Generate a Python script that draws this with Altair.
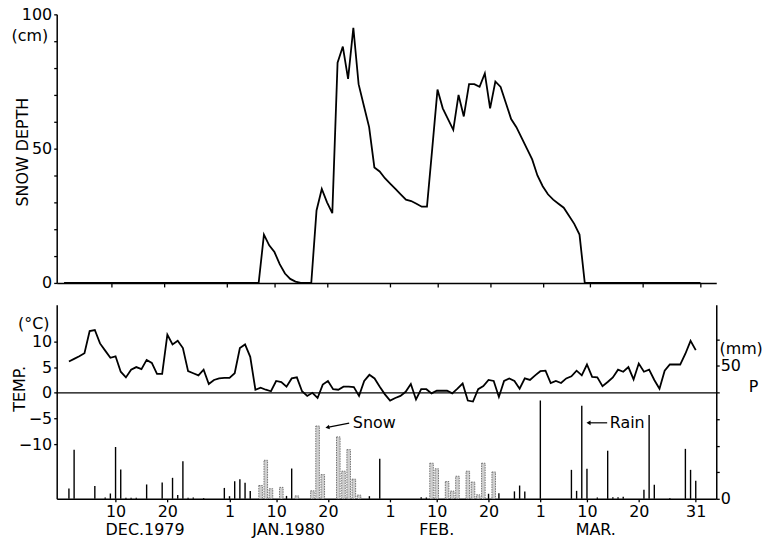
import altair as alt
import pandas as pd

FONT = "DejaVu Sans"

# Day index: 1 = 1 Dec 1979 ... 122 = 31 Mar 1980
snow_depth_cm = (
    [0] * 37
    + [0, 18, 14, 11.5, 7, 3.5, 1.5, 0.5, 0, 0, 0,            # 38-48
       27, 35, 30, 26, 82, 88, 76, 95, 74, 66, 58, 43,        # 49-60
       41.5, 39, 37, 35, 33, 31, 30.5, 29.5, 28.4, 28.4,      # 61-70
       50, 72, 65, 61, 57, 70, 62, 74, 74, 73,                # 71-80
       78, 65, 75, 73, 67, 61, 58, 54, 50, 46,                # 81-90
       40, 36, 33, 31, 29.5, 28, 25, 22, 18, 0]               # 91-100
    + [0] * 22
)

temperature_c = [
    6.1, 6.6, 7.1, 7.7, 12.0, 12.2, 9.6, 8.2, 6.8, 7.1,
    4.1, 3.0, 4.5, 5.0, 4.6, 6.4, 5.8, 3.7, 3.7, 11.3,
    9.4, 10.1, 8.7, 4.2, 3.8, 3.4, 4.5, 1.7, 2.5, 2.8,
    2.9, 2.9, 3.8, 8.7, 9.4, 7.0, 0.6, 1.0, 0.6, 0.3,
    2.3, 2.1, 1.2, 2.8, 3.0, 0.3, -0.6, 0.0, -1.0, 1.6,
    2.3, 0.7, 0.6, 1.2, 1.2, 1.1, -0.6, 2.3, 3.5, 2.8,
    1.2, -0.3, -1.5, -1.0, -0.6, 0.2, 1.7, -1.3, 0.7, 0.7,
    -0.1, 0.4, 0.4, 0.4, -0.1, 0.8, 1.8, -1.5, -1.7, 0.7,
    1.3, 2.5, 2.3, -0.8, 2.3, 2.8, 2.3, 0.8, 2.8, 2.5,
    3.4, 4.2, 4.3, 1.9, 2.3, 1.9, 2.8, 3.2, 4.3, 3.4,
    5.5, 3.1, 3.0, 1.3, 2.1, 3.0, 4.5, 4.1, 5.0, 2.6,
    5.7, 4.1, 4.5, 2.5, 0.8, 4.3, 5.5, 5.5, 5.5, 7.6,
    10.1, 8.3,
]

rain_days = [1, 2, 6, 8, 9, 10, 11, 12, 13, 14, 16, 19, 21, 22, 23, 24, 25, 27,
             31, 32, 33, 34, 35, 36, 43, 44, 59, 61, 69, 70, 82, 84, 87, 88, 89,
             92, 98, 99, 100, 101, 103, 105, 106, 107, 108, 112, 113, 114, 117,
             120, 121, 122]
rain_mm = [3.9, 18.5, 4.8, 0.5, 2, 19.5, 11, 0.4, 0.4, 0.4, 5.4, 6.1, 7.9, 1.4, 14.1, 0.4, 0.5, 0.3,
           4.1, 1.0, 6.6, 7.4, 6.0, 2.9, 1.1, 11.4, 1.0, 15.1, 0.6, 0.5, 1.9, 2.1, 2.8, 5.0, 2.8,
           37, 10.9, 3.0, 35, 11.3, 0.5, 18.1, 0.6, 0.6, 0.8, 3.4, 31.5, 5.3, 0.3,
           18.8, 10.9, 6.8]

snowfall_days = [38, 39, 40, 42, 45, 48, 49, 50, 53, 54, 55, 56, 57,
                 71, 72, 74, 75, 76, 78, 79, 80, 81, 83]
snowfall_mm = [5, 14.5, 3.8, 4.3, 1.1, 3, 27.4, 9.1, 23.3, 10.4, 18.5, 7.4, 1.4,
               13.4, 11.3, 6.5, 2.9, 8.5, 10.4, 6.3, 1.5, 13.4, 10.1]

tick_days = [10, 20, 32, 41, 51, 63, 72, 82, 92, 101, 111, 122]
tick_labels = ["10", "20", "1", "10", "20", "1", "10", "20", "1", "10", "20", "31"]

month_names = ["DEC.1979", "JAN.1980", "FEB.", "MAR."]
month_days = [15.7, 43.4, 72.0, 102.7]

# annotation anchors (day, mm)
note_texts = ["Snow", "Rain"]
note_days = [55.8, 105.4]
note_mm = [28.6, 28.6]
arrow_from_days = [55.1, 104.9]
arrow_from_mm = [28.5, 28.6]
arrow_to_days = [50.9, 101.3]
arrow_to_mm = [26.9, 28.6]
arrow_angles = [349, 0]

days = list(range(1, 123))
daily = pd.DataFrame({"day": days, "depth": snow_depth_cm, "temp": temperature_c})
rain = pd.DataFrame({"day": rain_days, "mm": rain_mm})
snowfall = pd.DataFrame({"day": snowfall_days, "mm": snowfall_mm})
notes = pd.DataFrame({"day": note_days, "mm": note_mm, "t": note_texts})
arrows = pd.DataFrame({"day": arrow_from_days, "mm": arrow_from_mm,
                       "day2": arrow_to_days, "mm2": arrow_to_mm, "ang": arrow_angles})
heads = pd.DataFrame({"day": arrow_to_days, "mm": arrow_to_mm, "ang": arrow_angles})
months = pd.DataFrame({"day": month_days, "m": month_names})

W = 663
x_scale = alt.Scale(domain=[-0.4, 125], nice=False, zero=False)
label_expr = ("[" + ",".join(f"'{l}'" for l in tick_labels) + "][indexof(["
              + ",".join(str(d) for d in tick_days) + "], datum.value)]")

x_top = alt.X("day:Q", scale=x_scale,
              axis=alt.Axis(values=tick_days, labels=False, title=None, tickSize=4))
x_bot = alt.X("day:Q", scale=x_scale,
              axis=alt.Axis(values=tick_days, labelExpr=label_expr, title=None,
                            tickSize=3, labelPadding=2, labelOverlap=False))

# ---------- top panel: snow depth ----------
depth_y = alt.Y("depth:Q", scale=alt.Scale(domain=[0, 100], nice=False),
                axis=alt.Axis(values=list(range(0, 101, 10)),
                              labelExpr="datum.value % 50 == 0 ? datum.label : ''",
                              title="SNOW DEPTH", titleAngle=270, titleX=-34, titleY=138,
                              titleAlign="center", titleBaseline="middle",
                              tickSize=3, labelPadding=2, labelOverlap=False))
depth_line = alt.Chart(daily).mark_line(color="black", strokeWidth=1.8).encode(x=x_top, y=depth_y)
cm_text = alt.Chart(pd.DataFrame({"t": ["(cm)"]})).mark_text(
    font=FONT, fontSize=16, align="center", baseline="middle", color="black"
).encode(text="t:N", x=alt.value(-27), y=alt.value(22))
top = alt.layer(depth_line, cm_text).properties(width=W, height=270)

# ---------- bottom panel: temperature + precipitation ----------
temp_scale = alt.Scale(domain=[-20.6, 17.1], nice=False, zero=False)
temp_axis = alt.Axis(orient="left", values=[-10, -5, 0, 5, 10], title="TEMP.",
                     titleAngle=270, titleX=-37, titleY=84, titleAlign="center",
                     titleBaseline="middle", tickSize=3, labelPadding=2, labelOverlap=False)
temp_line = alt.Chart(daily).mark_line(color="black", strokeWidth=1.8).encode(
    x=x_bot, y=alt.Y("temp:Q", scale=temp_scale, axis=temp_axis))
zero_rule = alt.Chart(pd.DataFrame({"temp": [0]})).mark_rule(color="black", strokeWidth=1.3).encode(
    y=alt.Y("temp:Q", scale=temp_scale, axis=temp_axis))
temp_group = alt.layer(temp_line, zero_rule)

p_scale = alt.Scale(domain=[0, 73], nice=False, zero=True)
p_axis = alt.Axis(orient="right", values=list(range(0, 61, 10)),
                  labelExpr="datum.value == 0 || datum.value == 50 ? datum.label : ''",
                  title="P", titleAngle=0, titleX=37, titleY=82, titleAlign="center",
                  titleBaseline="middle", tickSize=3, labelPadding=1, labelOverlap=False)
p_y = alt.Y("mm:Q", scale=p_scale, axis=p_axis)

rain_bars = alt.Chart(rain).mark_bar(color="black", size=1.4).encode(x=x_bot, y=p_y)
snow_bars = alt.Chart(snowfall).mark_bar(
    size=3.6, fill="#cfcfcf", stroke="#444444", strokeWidth=0.7, strokeDash=[1.5, 1]
).encode(x=x_bot, y=p_y)
note_text = alt.Chart(notes).mark_text(
    font=FONT, fontSize=16, align="left", baseline="middle", color="black"
).encode(x=x_bot, y=p_y, text="t:N")
arrow_lines = alt.Chart(arrows).mark_rule(color="black", strokeWidth=1.2).encode(
    x=x_bot, y=p_y, x2="day2:Q", y2="mm2:Q")
arrow_heads = alt.Chart(heads).mark_point(
    shape="triangle-left", filled=True, color="black", size=22, opacity=1
).encode(x=x_bot, y=p_y, angle=alt.Angle("ang:Q", scale=None))
precip_group = alt.layer(rain_bars, snow_bars, note_text, arrow_lines, arrow_heads)

month_text = alt.Chart(months).mark_text(
    font=FONT, fontSize=16, align="center", baseline="middle", color="black"
).encode(x=x_bot, y=alt.value(226), text="m:N")
unit_text = alt.Chart(pd.DataFrame({"t": ["(°C)", "(mm)"], "px": [-23, 688], "py": [19, 44]})).mark_text(
    font=FONT, fontSize=16, align="center", baseline="middle", color="black"
).encode(text="t:N", x=alt.X("px:Q", scale=None), y=alt.Y("py:Q", scale=None))

bottom = alt.layer(temp_group, precip_group, month_text, unit_text).resolve_scale(
    y="independent").properties(width=W, height=195)

chart = alt.vconcat(top, bottom, spacing=14).properties(
    padding={"left": 11, "top": 5, "right": 3, "bottom": 5}
).configure_axis(
    domainColor="black", domainWidth=1.5, tickColor="black", tickWidth=1.3,
    labelColor="black", labelFont=FONT, labelFontSize=16,
    titleFont=FONT, titleFontSize=16, titleFontWeight="normal", titleColor="black",
    grid=False,
).configure_view(stroke=None)

chart.save("out.html", embed_options={"renderer": "svg", "actions": False})
